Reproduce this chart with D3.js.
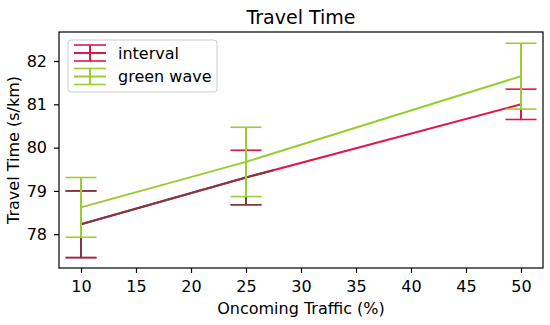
<!DOCTYPE html>
<html>
<head>
<meta charset="utf-8">
<title>Travel Time</title>
<script src="https://d3js.org/d3.v7.min.js"></script>
<style>
  body { margin: 0; background: #fff; }
  text { font-family: "DejaVu Sans", sans-serif; fill: #000; }
</style>
</head>
<body>
<div id="chart"></div>
<script>
// data
var traffic = [10, 25, 50];
var intervalMean = [78.23, 79.31, 81.0];
var intervalErr  = [0.77, 0.63, 0.35];
var greenMean = [78.62, 79.67, 81.65];
var greenErr  = [0.69, 0.80, 0.76];
var xTicks = [10, 15, 20, 25, 30, 35, 40, 45, 50];
var yTicks = [78, 79, 80, 81, 82];

var series = [
  {name: "interval", mean: intervalMean, err: intervalErr, color: "#e3164a"},
  {name: "green wave", mean: greenMean, err: greenErr, color: "#9acd32"}
];

var W = 550, H = 325;
var margin = {top: 32, right: 7, bottom: 57, left: 59},
    width = W - margin.left - margin.right,
    height = H - margin.top - margin.bottom;

var svg = d3.select("#chart").append("svg")
    .attr("width", W).attr("height", H);

var g = svg.append("g")
    .attr("transform", "translate(" + margin.left + "," + margin.top + ")");

var x = d3.scaleLinear().domain([8, 52]).range([0, width]);
var y = d3.scaleLinear().domain([77.22, 82.67]).range([height, 0]);

// axes
var xAxis = g.append("g")
    .attr("transform", "translate(0," + height + ")")
    .call(d3.axisBottom(x).tickValues(xTicks).tickFormat(d3.format("d")).tickSize(5).tickPadding(8));
var yAxis = g.append("g")
    .call(d3.axisLeft(y).tickValues(yTicks).tickFormat(d3.format("d")).tickSize(5).tickPadding(7));
[xAxis, yAxis].forEach(function(a) {
  a.attr("font-size", null).attr("font-family", null);
  a.select(".domain").remove();
  a.selectAll("text").style("font-size", "16px");
  a.selectAll("line").attr("stroke", "#000").attr("stroke-width", 1.2);
});

var capHalf = 15.5;
var line = d3.line()
    .x(function(d) { return x(d[0]); })
    .y(function(d) { return y(d[1]); });

function drawSeries(parent, s, color) {
  var pts = traffic.map(function(t, i) { return [t, s.mean[i], s.err[i]]; });
  parent.append("path")
      .datum(pts)
      .attr("d", line)
      .attr("fill", "none")
      .attr("stroke", color)
      .attr("stroke-width", 2);
  var eb = parent.selectAll(null).data(pts).enter().append("g");
  eb.append("line")
      .attr("x1", function(d) { return x(d[0]); })
      .attr("x2", function(d) { return x(d[0]); })
      .attr("y1", function(d) { return y(d[1] - d[2]); })
      .attr("y2", function(d) { return y(d[1] + d[2]); })
      .attr("stroke", color).attr("stroke-width", 2);
  [-1, 1].forEach(function(sign) {
    eb.append("line")
        .attr("x1", function(d) { return x(d[0]) - capHalf; })
        .attr("x2", function(d) { return x(d[0]) + capHalf; })
        .attr("y1", function(d) { return y(d[1] + sign * d[2]); })
        .attr("y2", function(d) { return y(d[1] + sign * d[2]); })
        .attr("stroke", color).attr("stroke-width", 1.6);
  });
}

// darker tint that shows on the lower-left part of the interval series
svg.append("defs").append("clipPath").attr("id", "darkzone")
  .append("rect")
    .attr("x", 0).attr("y", y(79.6))
    .attr("width", x(27.5)).attr("height", height - y(79.6));

drawSeries(g, series[0], series[0].color);
drawSeries(g.append("g").attr("clip-path", "url(#darkzone)"), series[0], "#7f3a3e");
drawSeries(g, series[1], series[1].color);

// frame
g.append("rect")
    .attr("width", width).attr("height", height)
    .attr("fill", "none").attr("stroke", "#000").attr("stroke-width", 1.2);

// legend
var leg = g.append("g").attr("transform", "translate(9,8)");
leg.append("rect")
    .attr("width", 149).attr("height", 52).attr("rx", 3)
    .attr("fill", "#fff").attr("fill-opacity", 0.8)
    .attr("stroke", "#ccc");
series.forEach(function(s, i) {
  var cy = 13 + i * 23.5;
  var hx0 = 6, hx1 = 38, hc = (hx0 + hx1) / 2;
  var r = leg.append("g");
  r.append("line").attr("x1", hx0).attr("x2", hx1).attr("y1", cy).attr("y2", cy)
      .attr("stroke", s.color).attr("stroke-width", 2);
  r.append("line").attr("x1", hx0).attr("x2", hx1).attr("y1", cy - 8).attr("y2", cy - 8)
      .attr("stroke", s.color).attr("stroke-width", 1.6);
  r.append("line").attr("x1", hx0).attr("x2", hx1).attr("y1", cy + 8).attr("y2", cy + 8)
      .attr("stroke", s.color).attr("stroke-width", 1.6);
  r.append("line").attr("x1", hc).attr("x2", hc).attr("y1", cy - 8).attr("y2", cy + 8)
      .attr("stroke", s.color).attr("stroke-width", 2);
  r.append("text").attr("x", 50).attr("y", cy).attr("dy", "0.35em")
      .style("font-size", "16px").text(s.name);
});

// titles
svg.append("text")
    .attr("x", margin.left + width / 2).attr("y", 24)
    .attr("text-anchor", "middle").style("font-size", "19px")
    .text("Travel Time");
svg.append("text")
    .attr("x", margin.left + width / 2).attr("y", 314)
    .attr("text-anchor", "middle").style("font-size", "16px")
    .text("Oncoming Traffic (%)");
svg.append("text")
    .attr("transform", "translate(19," + (margin.top + height / 2) + ") rotate(-90)")
    .attr("text-anchor", "middle").style("font-size", "16px")
    .text("Travel Time (s/km)");
</script>
</body>
</html>
